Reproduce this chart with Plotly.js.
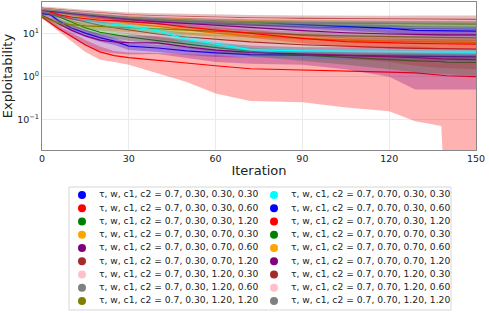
<!DOCTYPE html>
<html><head><meta charset="utf-8">
<script src="https://cdn.plot.ly/plotly-3.0.1.min.js"></script>
<style>html,body{margin:0;padding:0;background:#fff}#chart{width:489px;height:313px}</style>
</head><body><div id="chart"></div>
<script>
const iters = [0,3,6,10,15,20,25,30,40,50,60,72,90,105,120,129,138,140,150];

const labels = [
 "τ, w, c1, c2 = 0.7, 0.30, 0.30, 0.30","τ, w, c1, c2 = 0.7, 0.30, 0.30, 0.60","τ, w, c1, c2 = 0.7, 0.30, 0.30, 1.20",
 "τ, w, c1, c2 = 0.7, 0.30, 0.70, 0.30","τ, w, c1, c2 = 0.7, 0.30, 0.70, 0.60","τ, w, c1, c2 = 0.7, 0.30, 0.70, 1.20",
 "τ, w, c1, c2 = 0.7, 0.30, 1.20, 0.30","τ, w, c1, c2 = 0.7, 0.30, 1.20, 0.60","τ, w, c1, c2 = 0.7, 0.30, 1.20, 1.20",
 "τ, w, c1, c2 = 0.7, 0.70, 0.30, 0.30","τ, w, c1, c2 = 0.7, 0.70, 0.30, 0.60","τ, w, c1, c2 = 0.7, 0.70, 0.30, 1.20",
 "τ, w, c1, c2 = 0.7, 0.70, 0.70, 0.30","τ, w, c1, c2 = 0.7, 0.70, 0.70, 0.60","τ, w, c1, c2 = 0.7, 0.70, 0.70, 1.20",
 "τ, w, c1, c2 = 0.7, 0.70, 1.20, 0.30","τ, w, c1, c2 = 0.7, 0.70, 1.20, 0.60","τ, w, c1, c2 = 0.7, 0.70, 1.20, 1.20"];

const colors = ["#0000FF","#FF0000","#008000","#FFA500","#800080","#A52A2A","#FFC0CB","#808080","#808000",
                "#00FFFF","#0000FF","#FF0000","#008000","#FFA500","#800080","#A52A2A","#FFC0CB","#808080"];

const m00 = [30,28,20,14,10.5,8.2,6.8,5.2,4.7,4.0,3.6,3.3,3.2,3.1,3.0,2.95,2.9,2.9,2.9];
const s00 = [3,3,3,2.5,2,1.6,1.3,1.0,0.9,0.8,0.7,0.6,0.6,0.6,0.6,0.6,0.6,0.6,0.6];
const m01 = [25,18,13,9,5.5,3.8,3.1,2.8,2.4,2.05,1.8,1.53,1.45,1.38,1.28,1.22,1.1,1.05,1.0];
const s01 = [2,2,2,2,1.7,1.3,0.9,0.9,1.2,1.3,1.4,1.26,1.2,1.19,1.125,1.13,1.03,1.2,1.2];
const m02 = [33,30,25,19,14,11,9.5,8.5,7,5.8,4.8,3.9,3.2,2.8,2.5,2.35,2.25,2.2,2.15];
const s02 = [3,3,3,3,2.5,2,1.8,1.6,1.4,1.2,1.0,0.9,0.9,0.9,1.0,1.1,1.1,1.1,1.1];
const m03 = [36,34,31,28,25,22,20,18,15,12.5,10.5,9,7.8,7.2,6.8,6.6,6.4,6.35,6.3];
const s03 = [3,3,3,3,3,3,3,3,2.8,2.6,2.4,2.2,2.0,1.9,1.8,1.8,1.8,1.8,1.8];
const m04 = [27,22,17,12.5,9,7.2,6.5,6.3,6.2,5.0,4.2,3.7,3.4,3.2,3.0,2.8,2.6,2.6,2.5];
const s04 = [3,4,4,4,3.5,3.2,3.0,3.0,2.8,2.3,2.0,1.7,1.5,1.7,2.0,2.3,2.1,2.1,2.0];
const m05 = [32,30,27,23,19,16,14,12.5,10,8.5,7.5,6.5,5.6,5.1,4.8,4.6,4.5,4.45,4.4];
const s05 = [3,3,3,3,3,3,3,2.8,2.5,2.3,2.2,2.1,2.2,2.4,2.6,2.8,2.9,2.9,2.9];
const m06 = [37,36,34,31,28,26,24.5,23,21,19.5,18.5,17.5,16.3,15.5,15,14.8,14.6,14.5,14.5];
const s06 = [3,3,3,3,3,3,3,3,3,3,3,3,3,3,3,3,3,3,3];
const m07 = [36,35,33,30,27,25,23,21.5,19.5,18,17,16,14.8,14,13.5,13.2,13,13,13];
const s07 = [3,3,3,3,3,3,3,3,3,3,3,3,2.8,2.8,2.8,2.8,2.8,2.8,2.8];
const m08 = [26,21,18,16.5,15.5,15,14.5,14,13,12,11.2,10.5,9.5,9,8.6,8.4,8.2,8.2,8.1];
const s08 = [3,3,3,3,3,3,3,3,2.8,2.6,2.4,2.2,2,2,2,2,2,2,2];
const m09 = [35,32,28,25,21,19,17,15.5,12,7.5,5.8,4.3,4.0,3.9,3.85,3.8,3.75,3.75,3.75];
const s09 = [3,3,3,3,3,3,3,2.5,2,1.5,1.0,0.6,0.5,0.5,0.5,0.5,0.5,0.5,0.5];
const m10 = [36,35,33,31,29,27,26,25,23.5,22,20.5,19,16.5,15,13.5,12.2,11.8,11.8,11.7];
const s10 = [3,3,3,3,3,3,3,3,3,3,3,3,3,3,3,3,3,3,3];
const m11 = [38,32,28,25,23,21,20.5,19.5,17.5,14.5,12.5,10.2,7.9,6.6,6.1,6.0,5.9,5.85,5.8];
const s11 = [3,3,3,3,3,3,3,3,3,2.5,2.2,2,1.8,1.6,1.5,1.5,1.5,1.5,1.5];
const m12 = [38,37,35,33,30,28,26,24,22,21,20,19,18.3,17.8,17.4,17.2,17.1,17,17];
const s12 = [3,3,3,3,3,3,3,3,3,3,3,3,3,3,3,3,3,3,3];
const m13 = [39,38,36,34,31,29,27.5,26,24,22.5,21.5,20.5,20,19.7,19.5,19.5,19.4,19.4,19.4];
const s13 = [3,3,3,3,3,3,3,3,3,3,3,3,3,3,3,3,3,3,3];
const m14 = [37,36,34,31,28,26,24,22,19.5,17.5,16,14.3,12,10.7,10,9.7,9.6,9.5,9.5];
const s14 = [3,3,3,3,3,3,3,3,3,3,3,3,3,2.8,2.5,2.5,2.5,2.5,2.5];
const m15 = [40,39,37,35,33,31,29.5,28,26.5,25.5,24.8,24,23.3,22.8,22.4,22.2,22.1,22,22];
const s15 = [4,4,4,4,4,4,4,4,4,4,4,4,4,4,4.5,5,5,5,5];
const m16 = [39,38,36,34,32,30,28.5,27,25.5,24.5,23.5,22.5,21.8,21.3,21,20.8,20.7,20.6,20.5];
const s16 = [3,3,3,3,3,3,3,3,3,3,3,3,3,3,3,3,3,3,3];
const m17 = [38,37,35,32,29.5,27.5,26,24.5,22.5,21,20,19.3,18.7,18.3,18,17.9,17.8,17.8,17.8];
const s17 = [3,3,3,3,3,3,3,3,3,3,3,3,3,3,3,3,3,3,3];

const means = [m00,m01,m02,m03,m04,m05,m06,m07,m08,m09,m10,m11,m12,m13,m14,m15,m16,m17];
const stds  = [s00,s01,s02,s03,s04,s05,s06,s07,s08,s09,s10,s11,s12,s13,s14,s15,s16,s17];

function rgba(hex, a){
  const r = parseInt(hex.slice(1,3),16), g = parseInt(hex.slice(3,5),16), b = parseInt(hex.slice(5,7),16);
  return `rgba(${r},${g},${b},${a})`;
}

const traces = [];
means.forEach((m, i) => {
  const s = stds[i];
  const up = m.map((v, k) => v + s[k]);
  const lo = m.map((v, k) => Math.max(v - s[k], 1e-4));
  traces.push({
    x: iters.concat(iters.slice().reverse()),
    y: up.concat(lo.slice().reverse()),
    type: 'scatter', mode: 'lines', fill: 'toself',
    fillcolor: rgba(colors[i], 0.3), line: {width: 0}, showlegend: false, hoverinfo: 'skip'
  });
  traces.push({
    x: iters, y: m, type: 'scatter', mode: 'lines',
    line: {color: colors[i], width: 1.2}, showlegend: false, name: labels[i]
  });
});

// legend built on a helper axis (two columns of nine rows)
const perCol = 9;
const legCol = labels.map((_, i) => Math.floor(i / perCol));
const legRow = labels.map((_, i) => i % perCol);
traces.push({
  x: legCol, y: legRow, type: 'scatter', mode: 'markers', xaxis: 'x2', yaxis: 'y2',
  marker: {color: colors, size: 8}, showlegend: false, hoverinfo: 'skip'
});
traces.push({
  x: legCol.map(c => c + 0.088), y: legRow, type: 'scatter', mode: 'text', xaxis: 'x2', yaxis: 'y2',
  text: labels, textposition: 'middle right',
  textfont: {family: 'DejaVu Sans', size: 9.2, color: '#222'}, showlegend: false, hoverinfo: 'skip'
});

const layout = {
  width: 489, height: 313,
  margin: {l: 42, r: 13, t: 2, b: 0},
  paper_bgcolor: '#fff', plot_bgcolor: '#fff',
  font: {family: 'DejaVu Sans', color: '#222'},
  showlegend: false,
  xaxis: {
    range: [0, 150], tickvals: [0,30,60,90,120,150], ticks: '',
    showline: true, linecolor: '#888', linewidth: 1, mirror: true,
    showgrid: true, gridcolor: '#ebebeb', gridwidth: 1, zeroline: false,
    tickfont: {size: 9.5, color: '#222'},
    title: {text: 'Iteration', font: {size: 13, color: '#222'}, standoff: 2},
    anchor: 'y'
  },
  yaxis: {
    type: 'log', range: [-1.72, 1.75], domain: [0.5241, 1],
    tickvals: [0.1, 1, 10], ticktext: ['10<sup>−1</sup>', '10<sup>0</sup>', '10<sup>1</sup>'],
    ticks: '',
    showline: true, linecolor: '#888', linewidth: 1, mirror: true,
    showgrid: true, gridcolor: '#ebebeb', zeroline: false,
    tickfont: {size: 9.5, color: '#222'},
    title: {text: 'Exploitability', font: {size: 13, color: '#222'}, standoff: 4},
    anchor: 'x'
  },
  xaxis2: {domain: [0, 1], range: [-0.2083, 2.0521], visible: false, anchor: 'y2', fixedrange: true},
  yaxis2: {domain: [0, 0.45], range: [8.9057, -1.6566], visible: false, anchor: 'x2', fixedrange: true},
  shapes: [{
    type: 'rect', xref: 'paper', yref: 'paper', x0: 0.0622, x1: 0.9424, y0: 0.00965, y1: 0.4051,
    line: {color: '#d6d6d6', width: 1}, fillcolor: '#ffffff', layer: 'below'
  }]
};

Plotly.newPlot('chart', traces, layout, {staticPlot: true, displayModeBar: false});
</script>
</body></html>
